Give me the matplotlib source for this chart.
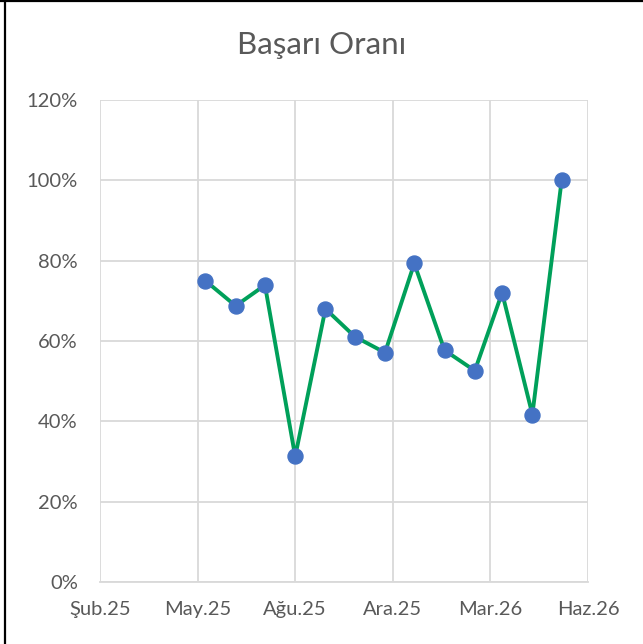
import matplotlib
matplotlib.use("Agg")
import matplotlib.pyplot as plt
import matplotlib.dates as mdates
import numpy as np
import datetime as dt

plt.rcParams['font.family'] = ['Lato', 'DejaVu Sans']

# Data
dates = ["2025-05-27", "2025-06-27", "2025-07-27", "2025-08-27", "2025-09-27",
         "2025-10-27", "2025-11-27", "2025-12-27", "2026-01-27", "2026-02-27",
         "2026-03-27", "2026-04-27", "2026-05-27"]
values = [0.75, 0.6875, 0.739, 0.3125, 0.68, 0.611, 0.571, 0.793, 0.577,
          0.526, 0.72, 0.417, 1.0]
x_tick_dates = ["2025-02-08", "2025-05-19", "2025-08-27", "2025-12-05",
                "2026-03-15", "2026-06-23"]
x_tick_labels = ["Şub.25", "May.25", "Ağu.25", "Ara.25", "Mar.26", "Haz.26"]
y_ticks = [0, 0.2, 0.4, 0.6, 0.8, 1.0, 1.2]
y_tick_labels = ["0%", "20%", "40%", "60%", "80%", "100%", "120%"]
title = "Başarı Oranı"

xd = [mdates.date2num(dt.date.fromisoformat(d)) for d in dates]
xt = [mdates.date2num(dt.date.fromisoformat(d)) for d in x_tick_dates]

W, H = 643, 644
fig = plt.figure(figsize=(W/100, H/100), dpi=100)
ax = fig.add_axes([100/W, 1-582/H, 488/W, 482/H])

text_color = "#595959"
grid_color = "#D9D9D9"

ax.plot(xd, values, color="#00A05A", linewidth=2.8, marker="o",
        markersize=10.8, markerfacecolor="#4472C4", markeredgecolor="#4472C4",
        zorder=3)

ax.set_xlim(xt[0], xt[-1])
ax.set_ylim(0, 1.2)
ax.set_xticks(xt)
ax.set_xticklabels(x_tick_labels)
ax.set_yticks(y_ticks)
ax.set_yticklabels(y_tick_labels)

ax.grid(True, color=grid_color, linewidth=1.3, zorder=0)
for s in ["top", "right", "left"]:
    ax.spines[s].set_visible(False)
ax.spines["bottom"].set_color(grid_color)
ax.spines["bottom"].set_linewidth(1.3)
ax.tick_params(axis="both", length=0, labelsize=14.5, labelcolor=text_color)
ax.tick_params(axis="x", pad=14)
ax.tick_params(axis="y", pad=16)

fig.text(0.5, 1-45/H, title, ha="center", va="center", fontsize=22.5,
         color=text_color)

# Chart frame (top and left edges)
fig.add_artist(plt.Line2D([5/W, 5/W], [0, 1], transform=fig.transFigure,
                          color="black", linewidth=1.6))
fig.add_artist(plt.Line2D([0, 1], [1-1/H, 1-1/H], transform=fig.transFigure,
                          color="black", linewidth=1.6))

fig.savefig("out.png", dpi=100)
